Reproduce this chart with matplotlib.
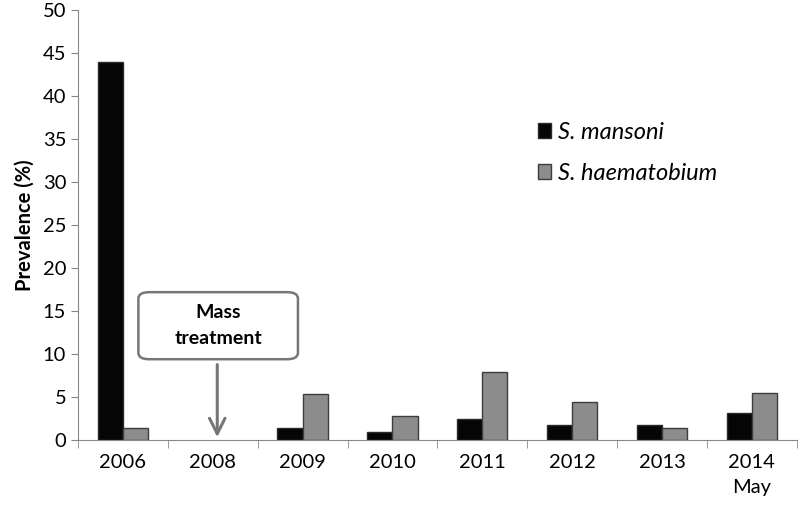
import numpy as np
import matplotlib
matplotlib.use('Agg')
import matplotlib.pyplot as plt
from matplotlib.patches import FancyBboxPatch

plt.rcParams['font.family'] = ['Lato', 'DejaVu Sans']

years = ['2006', '2008', '2009', '2010', '2011', '2012', '2013', '2014\nMay']
mansoni = [44.0, 0.0, 1.4, 0.9, 2.5, 1.8, 1.8, 3.1]
haematobium = [1.4, 0.0, 5.4, 2.75, 7.9, 4.4, 1.4, 5.5]

fig = plt.figure(figsize=(8, 5.12), dpi=100)
ax = fig.add_axes([0.0975, 0.1406, 0.8985, 0.8394])

x = np.arange(len(years))
w = 0.28
b1 = ax.bar(x - w/2, mansoni, w, color='#050505', edgecolor='#2a2a2a', linewidth=1, label='S. mansoni')
b2 = ax.bar(x + w/2, haematobium, w, color='#8c8c8c', edgecolor='#3c3c3c', linewidth=1, label='S. haematobium')
for p in list(b1) + list(b2):
    if p.get_height() == 0:
        p.set_visible(False)

ax.set_xlim(-0.5, len(years) - 0.5)
ax.set_ylim(0, 50)
ax.set_yticks(np.arange(0, 51, 5))
ax.set_xticks(x)
ax.set_xticklabels(years, fontsize=14.5, linespacing=1.6)
ax.set_xticks(np.arange(-0.5, len(years)), minor=True)
ax.tick_params(axis='x', which='major', length=0, pad=10)
ax.tick_params(axis='x', which='minor', length=6, color='#888888', direction='out')
ax.tick_params(axis='y', labelsize=14.5, length=5, color='#888888')
for s in ['top', 'right']:
    ax.spines[s].set_visible(False)
for s in ['left', 'bottom']:
    ax.spines[s].set_color('#888888')
ax.set_ylabel('Prevalence (%)', fontsize=14.5, fontweight='bold', labelpad=6)

ax.legend(loc='upper left', bbox_to_anchor=(0.61, 0.79), frameon=False,
          prop={'style': 'italic', 'size': 17}, handlelength=0.55, handleheight=0.6,
          labelspacing=0.85, handletextpad=0.3)

# mass treatment callout
box = FancyBboxPatch((0.088, 0.192), 0.214, 0.148, boxstyle='round,pad=0.004,rounding_size=0.015',
                     transform=ax.transAxes, facecolor='white', edgecolor='#777777', linewidth=1.8)
ax.add_patch(box)
ax.text(0.195, 0.266, 'Mass\ntreatment', transform=ax.transAxes, ha='center', va='center',
        fontsize=14, fontweight='bold', linespacing=1.6)
ax.annotate('', xy=(1.05, 0), xytext=(1.05, 9.1),
            arrowprops=dict(arrowstyle='->', color='#777777', lw=2.2, mutation_scale=28))

fig.savefig('out.png', dpi=100)
